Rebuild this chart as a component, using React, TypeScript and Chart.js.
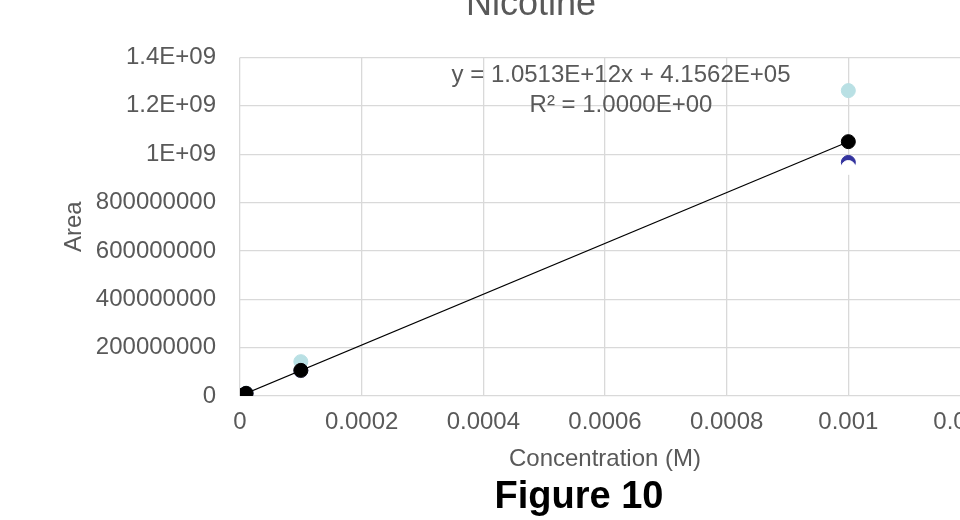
import React, { useEffect, useRef } from "react";
import { Chart, registerables } from "chart.js";

Chart.register(...registerables);

const FONT = "'Liberation Sans', Arial, sans-serif";
const GRAY = "#595959";

const concentrations = [0.0000001, 0.000001, 0.00001, 0.0001, 0.001];
const meanArea = [5.0e5, 1.5e6, 1.1e7, 1.06e8, 1.052e9];
const lightBlueArea = [6.0e5, 1.8e6, 1.2e7, 1.42e8, 1.263e9];
const darkBlueArea = [5.0e5, 1.4e6, 1.05e7, 1.05e8, 9.66e8];
const whiteArea = [5.0e5, 1.4e6, 1.05e7, 1.06e8, 9.45e8];
const trendX = [0.0000001, 0.001];
const trendY = [5.2e5, 1.0517e9];

const xTickLabels = ["0", "0.0002", "0.0004", "0.0006", "0.0008", "0.001", "0.0012"];
const yTickLabels = ["0", "200000000", "400000000", "600000000", "800000000", "1E+09", "1.2E+09", "1.4E+09"];

const chartTitle = "Nicotine";
const equationText = "y = 1.0513E+12x + 4.1562E+05";
const r2Text = "R² = 1.0000E+00";
const figureText = "Figure 10";

const toPoints = (xs: number[], ys: number[]) => xs.map((x, i) => ({ x, y: ys[i] }));

const textPlugin = {
  id: "texts",
  afterDraw(chart: any) {
    const ctx = chart.ctx;
    ctx.save();
    ctx.textAlign = "center";
    ctx.textBaseline = "alphabetic";
    ctx.fillStyle = GRAY;
    ctx.font = `36px ${FONT}`;
    ctx.fillText(chartTitle, 531, 45);
    ctx.font = `24px ${FONT}`;
    ctx.fillText(equationText, 621, 112);
    ctx.fillText(r2Text, 621, 142);
    ctx.fillStyle = "#000000";
    ctx.font = `bold 38px ${FONT}`;
    ctx.fillText(figureText, 579, 538);
    ctx.restore();
  },
};

export default function App() {
  const ref = useRef<HTMLCanvasElement | null>(null);

  useEffect(() => {
    if (!ref.current) return;
    Chart.defaults.font.family = FONT;
    const chart = new Chart(ref.current, {
      type: "scatter",
      data: {
        datasets: [
          {
            label: "Mean",
            data: toPoints(concentrations, meanArea),
            backgroundColor: "#000000",
            borderColor: "#000000",
            pointRadius: 7,
            borderWidth: 1,
          },
          {
            type: "line",
            label: "Linear (Mean)",
            data: toPoints(trendX, trendY),
            borderColor: "#000000",
            borderWidth: 1.2,
            pointRadius: 0,
            fill: false,
          },
          {
            label: "Rep 3",
            data: toPoints(concentrations, whiteArea),
            backgroundColor: "#ffffff",
            borderColor: "#ffffff",
            pointRadius: 7,
            borderWidth: 1,
          },
          {
            label: "Rep 2",
            data: toPoints(concentrations, darkBlueArea),
            backgroundColor: "#34349E",
            borderColor: "#34349E",
            pointRadius: 7,
            borderWidth: 1,
          },
          {
            label: "Rep 1",
            data: toPoints(concentrations, lightBlueArea),
            backgroundColor: "#B9E0E4",
            borderColor: "#B9E0E4",
            pointRadius: 7,
            borderWidth: 1,
          },
        ],
      } as any,
      options: {
        responsive: false,
        animation: false,
        devicePixelRatio: 1,
        layout: { padding: { left: 0, right: 130, top: 87.5, bottom: 56.6 } },
        plugins: { legend: { display: false }, tooltip: { enabled: false }, title: { display: false } },
        scales: {
          x: {
            type: "linear",
            min: 0,
            max: 0.0012,
            afterFit: (s: any) => { s.height = 77.4; },
            ticks: {
              stepSize: 0.0002,
              color: GRAY,
              font: { size: 24 },
              padding: 12,
              maxRotation: 0,
              callback: (_v: any, i: number) => xTickLabels[i],
            },
            grid: { color: "#d9d9d9", lineWidth: 1.3, drawTicks: false },
            border: { display: false },
            title: { display: true, text: "Concentration (M)", color: GRAY, font: { size: 24 }, padding: { top: 0, bottom: 0 } },
          },
          y: {
            min: 0,
            max: 1.4e9,
            afterFit: (s: any) => { s.width = 240; },
            ticks: {
              stepSize: 2e8,
              color: GRAY,
              font: { size: 24 },
              padding: 24,
              callback: (_v: any, i: number) => yTickLabels[i],
            },
            grid: { color: "#d9d9d9", lineWidth: 1.3, drawTicks: false },
            border: { display: false },
            title: { display: true, text: "Area", color: GRAY, font: { size: 24 }, padding: { top: 59.6, bottom: 0 } },
          },
        },
      } as any,
      plugins: [textPlugin],
    });
    return () => chart.destroy();
  }, []);

  return (
    <div style={{ position: "fixed", left: 0, top: 0, width: 960, height: 520, overflow: "hidden", background: "#ffffff" }}>
      <canvas ref={ref} width={1100} height={560} style={{ position: "absolute", left: 0, top: -30 }} />
    </div>
  );
}
